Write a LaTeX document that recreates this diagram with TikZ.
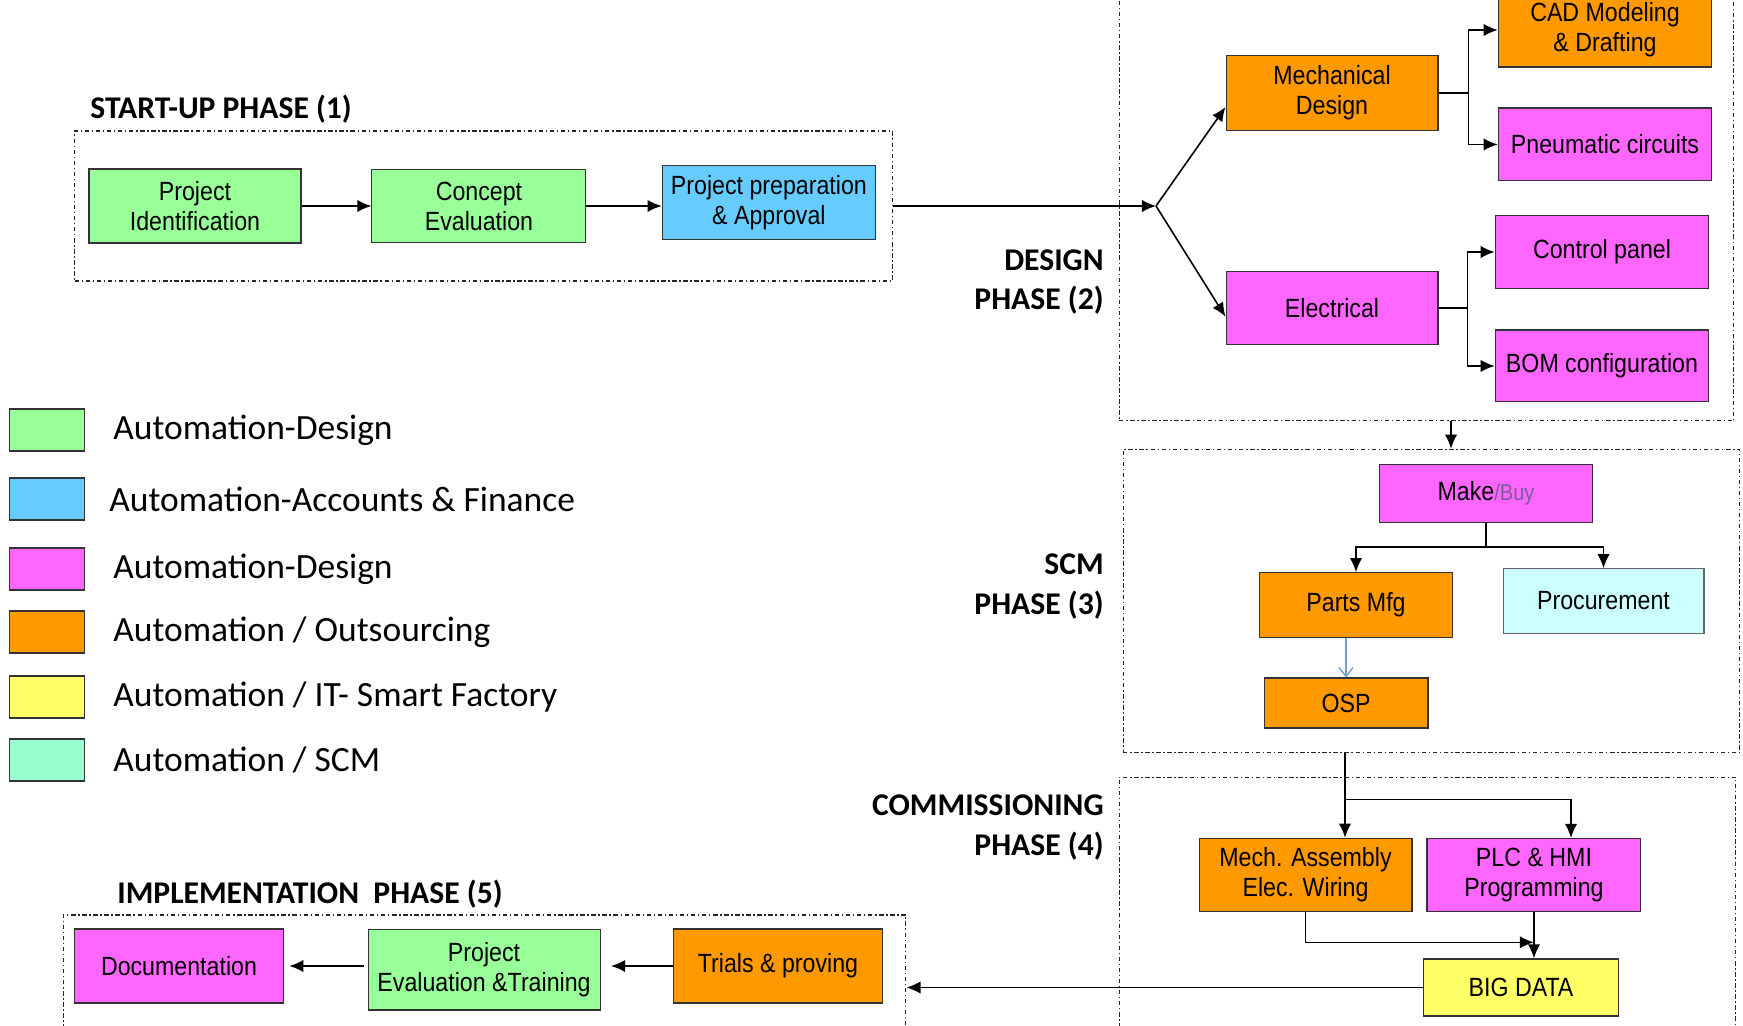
\documentclass[tikz,border=0pt]{standalone}
\usepackage{fontspec}
\usepackage{xcolor}
\usetikzlibrary{arrows.meta,calc}
\newfontfamily\boxfam{Liberation Sans}[FakeStretch=0.88]
\newfontfamily\legfam{Carlito}
\definecolor{cgreen}{HTML}{99FF99}
\definecolor{cblue}{HTML}{66CCFF}
\definecolor{cpink}{HTML}{FF66FF}
\definecolor{corange}{HTML}{FF9900}
\definecolor{cyellow}{HTML}{FFFF66}
\definecolor{cmint}{HTML}{99FFCC}
\definecolor{ccyan}{HTML}{CCFFFF}
\definecolor{cbuy}{HTML}{7E5A9E}
\definecolor{cline}{HTML}{6E9FD6}

\begin{document}
\begin{tikzpicture}
[x=0.02cm, y=-0.02cm,
box/.style={rectangle, draw=black!80, line width=0.6pt, inner sep=2pt, align=center, font=\fontsize{15}{17}\boxfam},
frame/.style={rectangle, draw=black!85, line width=0.6pt, dash pattern=on 2.5pt off 1.5pt on 0.8pt off 1.5pt},
phase/.style={font=\fontsize{18}{22.5}\legfam\bfseries, align=right, inner sep=0pt},
legend/.style={font=\fontsize{20.2}{24}\legfam, inner sep=0pt, anchor=west},
arr/.style={-{Latex[length=8pt,width=7pt]}, line width=0.9pt},
line/.style={line width=0.9pt}]

\useasboundingbox (0,0) rectangle (1743,1026);

%Frames
\node[frame, minimum width=16.36cm, minimum height=3cm] (startup) at (483.5,206) {};
\node[frame, minimum width=12.3cm, minimum height=8.84cm] (design) at (1426.5,200) {};
\node[frame, minimum width=12.34cm, minimum height=6.07cm] (scm) at (1431.5,601) {};
\node[frame, minimum width=12.34cm, minimum height=5.38cm] (comm) at (1427.5,911.5) {};
\node[frame, minimum width=16.86cm, minimum height=2.62cm] (impl) at (484.5,980.5) {};

%Phase labels
\node[phase, anchor=west] (lstart) at (90,109) {START-UP PHASE (1)};
\node[phase, anchor=east] (ldesign) at (1104,282) {DESIGN\\PHASE (2)};
\node[phase, anchor=east] (lscm) at (1104,586.5) {SCM\\PHASE (3)};
\node[phase, anchor=east] (lcomm) at (1104,827.5) {COMMISSIONING\\PHASE (4)};
\node[phase, anchor=west] (limpl) at (117,894) {IMPLEMENTATION\ \ PHASE (5)};

%Start-up nodes
\node[box, fill=cgreen, minimum width=4.24cm, minimum height=1.48cm] (pid) at (195,206) {Project\\Identification};
\node[box, fill=cgreen, minimum width=4.28cm, minimum height=1.46cm, right of=pid, node distance=5.68cm] (ce) {Concept\\Evaluation};
\node[box, fill=cblue, minimum width=4.27cm, minimum height=1.47cm, right of=ce, node distance=5.8cm, yshift=2pt] (pp) {Project preparation\\\& Approval};

%Design nodes
\coordinate (split) at (1156,206);
\node[box, fill=corange, minimum width=4.24cm, minimum height=1.49cm] (md) at (1332,93) {Mechanical\\Design};
\node[box, fill=cpink, minimum width=4.24cm, minimum height=1.47cm, below of=md, node distance=4.3cm] (el) {Electrical};
\node[box, fill=corange, minimum width=4.27cm, minimum height=1.48cm] (cad) at (1605,30) {CAD Modeling\\\& Drafting};
\node[box, fill=cpink, minimum width=4.27cm, minimum height=1.46cm, below of=cad, node distance=2.29cm] (pn) {Pneumatic circuits};
\node[box, fill=cpink, minimum width=4.27cm, minimum height=1.47cm] (cp) at (1602,252) {Control panel};
\node[box, fill=cpink, minimum width=4.27cm, minimum height=1.44cm, below of=cp, node distance=2.28cm] (bom) {BOM configuration};

%SCM nodes
\coordinate (d2s) at (1451,421);
\node[box, fill=cpink, minimum width=4.25cm, minimum height=1.16cm] (mb) at (1486,493.5) {Make{\color{cbuy}\fontsize{13}{15}\selectfont/Buy}};
\node[box, fill=corange, minimum width=3.85cm, minimum height=1.29cm] (pm) at (1356,605) {Parts Mfg};
\node[box, fill=ccyan, draw=black!60, minimum width=4.02cm, minimum height=1.29cm] (proc) at (1603.5,601) {Procurement};
\node[box, fill=corange, minimum width=3.28cm, minimum height=1cm] (osp) at (1346,703) {OSP};

%Commissioning nodes
\coordinate (s2c) at (1345,752.6);
\node[box, fill=corange, minimum width=4.26cm, minimum height=1.47cm] (ma) at (1305.5,875) {Mech. Assembly\\Elec. Wiring};
\node[box, fill=cpink, minimum width=4.28cm, minimum height=1.47cm, right of=ma, node distance=4.57cm] (plc) {PLC \& HMI\\Programming};
\coordinate (plcin) at (1571,838);
\node[box, fill=cyellow, minimum width=3.89cm, minimum height=1.14cm] (bd) at (1521,987.5) {BIG DATA};

%Implementation nodes
\node[box, fill=corange, minimum width=4.18cm, minimum height=1.48cm] (tr) at (778,966) {Trials \& proving};
\node[box, fill=cgreen, minimum width=4.64cm, minimum height=1.62cm, left of=tr, node distance=5.88cm, yshift=-2pt] (pet) {Project\\Evaluation \&Training};
\node[box, fill=cpink, minimum width=4.18cm, minimum height=1.48cm] (doc) at (179,966) {Documentation};

%Legend
\foreach \col/\txt/\ypos/\xpos [count=\i] in {cgreen/{Automation-Design}/430/113, cblue/{Automation-Accounts \& Finance}/499/109, cpink/{Automation-Design}/569/113, corange/{Automation / Outsourcing}/632/113, cyellow/{Automation / IT- Smart Factory}/697/113, cmint/{Automation / SCM}/760/113}
{
  \node[box, fill=\col, minimum width=1.51cm, minimum height=0.84cm] (key\i) at (47,\ypos) {};
  \node[legend] (keytxt\i) at (\xpos,\ypos) {\txt};
}

%Lines
\draw[arr] (pid.east) -- (pid.east -| ce.west);
\draw[arr] (ce.east) -- (ce.east -| pp.west);
\draw[arr] (startup.east) -- (split);
\draw[arr] (split) -- ([yshift=-8pt]md.west);
\draw[arr] (split) -- ([yshift=-5pt]el.west);
\draw[arr] (md.east) -- ++(30,0) |- (cad.west);
\draw[arr] (md.east) -- ++(30,0) |- (pn.west);
\draw[arr] (el.east) -- ++(29,0) |- (cp.west);
\draw[arr] (el.east) -- ++(29,0) |- (bom.west);
\draw[arr] (d2s) -- (d2s |- scm.north);
\draw[arr] (mb.south) -- ++(0,24) -| (pm.north);
\draw[arr] (mb.south) -- ++(0,24) -| (proc.north);
\draw[-{Straight Barb[length=5pt,width=8pt]}, cline, line width=0.8pt] (osp.north |- pm.south) -- (osp.north);
\draw[arr] (s2c) -- (s2c |- ma.north);
\draw[arr] (s2c) |- ($(s2c)!0.55!(s2c |- ma.north)$) -| (plcin);
\draw[arr] (ma.south) |- ($(plc.south)!0.65!(plc.south |- bd.north)$);
\draw[arr] (plc.south) -- (plc.south |- bd.north);
\draw[arr] (bd.west) -- (bd.west -| impl.east);
\draw[arr, shorten >=6pt] (tr.west) -- (tr.west -| pet.east);
\draw[arr, shorten >=3pt, shorten <=2pt] (pet.west |- doc.east) -- (doc.east);

\end{tikzpicture}
\end{document}
